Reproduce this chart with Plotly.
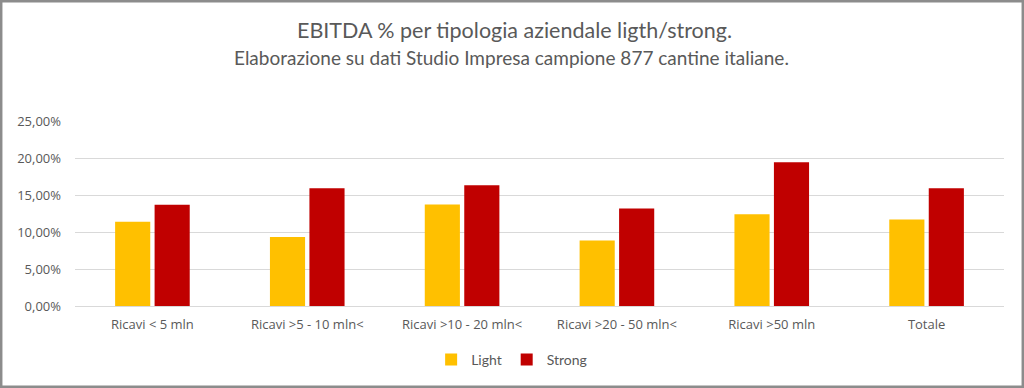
import plotly.graph_objects as go

categories = ["Ricavi < 5 mln", "Ricavi >5 - 10 mln<", "Ricavi >10 - 20 mln<",
              "Ricavi >20 - 50 mln<", "Ricavi >50 mln", "Totale"]
light = [0.1138, 0.0931, 0.1372, 0.0886, 0.1241, 0.1170]
strong = [0.1367, 0.1592, 0.1633, 0.1318, 0.1943, 0.1592]
tick_vals = [0, 0.05, 0.10, 0.15, 0.20, 0.25]
tick_text = ["0,00%", "5,00%", "10,00%", "15,00%", "20,00%", "25,00%"]
title_text = "EBITDA % per tipologia aziendale ligth/strong."
subtitle_text = "Elaborazione su dati Studio Impresa campione 877 cantine italiane."

W, H = 1024, 388
ML, MR, MT, MB = 75, 20, 121, 82
pw = W - ML - MR
ph = H - MT - MB

fig = go.Figure()
fig.add_trace(go.Bar(x=categories, y=light, name="Light", marker_color="#FFC000",
                     marker_line_width=0))
fig.add_trace(go.Bar(x=categories, y=strong, name="Strong", marker_color="#C00000",
                     marker_line_width=0))

fig.add_shape(type="rect", xref="paper", yref="paper",
              x0=-(ML - 1.2) / pw, x1=1 + (MR - 1.2) / pw,
              y0=-(MB - 1.2) / ph, y1=1 + (MT - 1.2) / ph,
              line=dict(color="#8C8C8C", width=2.5), layer="above")

title_font = "Lato, Roboto, sans-serif"
tick_font = "Open Sans, Liberation Sans, sans-serif"

fig.add_annotation(text=title_text, xref="paper", yref="paper",
                   x=(514 - ML) / pw, y=1 + (MT - 30) / ph, showarrow=False,
                   xanchor="center", yanchor="middle",
                   font=dict(size=21.5, color="#595959", family=title_font))
fig.add_annotation(text=subtitle_text, xref="paper", yref="paper",
                   x=(511 - ML) / pw, y=1 + (MT - 58) / ph, showarrow=False,
                   xanchor="center", yanchor="middle",
                   font=dict(size=19, color="#595959", family=title_font))

fig.update_layout(
    width=W, height=H,
    margin=dict(l=ML, r=MR, t=MT, b=MB),
    paper_bgcolor="white", plot_bgcolor="white",
    barmode="group", bargap=0.49, bargroupgap=0.11,
    font=dict(family=tick_font, color="#595959", size=13),
    legend=dict(orientation="h", x=0.47, xanchor="center", y=-0.205, yanchor="top",
                font=dict(size=14, color="#595959", family=title_font), itemwidth=30),
    xaxis=dict(showgrid=False, showline=True, linecolor="#D9D9D9", linewidth=1,
               ticks="", tickfont=dict(size=13, color="#595959"), ticklabelstandoff=6,
               automargin=False),
    yaxis=dict(range=[0, 0.25], tickvals=tick_vals, ticktext=tick_text,
               showgrid=True, gridcolor="#D9D9D9", gridwidth=1, zeroline=False,
               ticks="", tickfont=dict(size=13, color="#595959"), ticklabelstandoff=13,
               automargin=False),
)

fig.write_html("out.html", config={"displayModeBar": False},
               post_script="document.body.style.margin='0';document.body.style.overflow='hidden';")
